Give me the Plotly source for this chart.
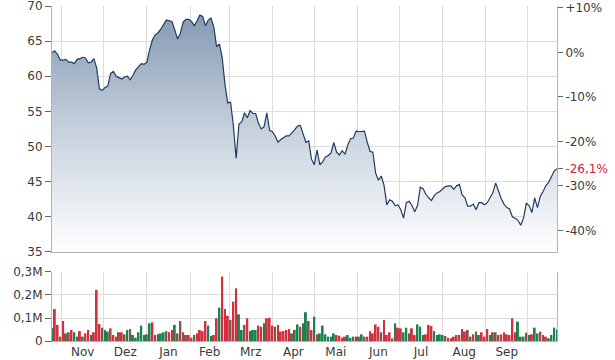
import plotly.graph_objects as go
import pandas as pd

# ---------------- data ----------------
START = "2022-10-25"
PRICE = [
    63.4, 63.6, 63.1, 62.3, 62.3, 62.4, 62.0, 62.0, 61.8, 62.4,
    62.5, 62.7, 62.6, 61.9, 62.0, 62.5, 61.2, 58.2, 58.0, 58.4,
    58.6, 60.4, 60.7, 60.0, 59.8, 59.6, 59.9, 60.0, 59.5, 60.1,
    60.9, 61.4, 61.8, 61.7, 62.0, 63.8, 65.2, 65.9, 66.2, 66.7,
    67.3, 68.0, 67.9, 67.8, 66.6, 65.3, 66.1, 67.7, 68.1, 68.1,
    67.8, 67.2, 67.9, 68.7, 68.5, 67.2, 68.0, 68.3, 67.0, 64.2,
    64.6, 62.7, 58.8, 56.2, 56.3, 53.0, 48.3, 53.2, 53.5, 54.8,
    54.1, 55.1, 54.7, 54.7, 53.3, 52.5, 52.8, 54.8, 52.3, 52.1,
    51.5, 50.6, 51.0, 51.2, 51.5, 51.5, 51.9, 52.4, 52.9, 53.0,
    51.8, 50.6, 50.8, 48.2, 47.4, 49.5, 47.4, 47.8, 48.5, 48.7,
    49.1, 50.6, 49.2, 48.8, 49.4, 48.9, 50.2, 51.1, 51.2, 52.2,
    52.1, 52.1, 52.2, 50.6, 49.3, 49.2, 46.2, 45.2, 45.8, 44.5,
    41.7, 42.4, 42.2, 41.6, 41.7, 41.0, 39.8, 42.0, 42.2, 41.6,
    40.7, 41.6, 44.2, 44.0, 43.2, 42.7, 42.3, 43.0, 43.4, 43.6,
    43.9, 44.3, 44.4, 44.4, 43.9, 44.4, 44.6, 43.1, 42.7, 41.5,
    41.5, 41.8, 41.0, 42.0, 42.0, 41.7, 42.0, 42.7, 43.4, 44.8,
    43.6, 42.6, 41.8, 41.3, 41.1, 40.0, 39.8, 39.5, 38.8, 39.8,
    41.9, 41.6, 40.6, 42.7, 41.3, 42.9, 43.6, 44.4, 44.9, 45.6,
    46.5, 46.85,
]
VOLUME_K = [
    58, 139, 70, 19, 87, 33, 38, 48, 38, 19,
    43, 19, 33, 48, 26, 38, 222, 74, 58, 48,
    41, 55, 26, 19, 38, 38, 29, 48, 52, 26,
    14, 38, 67, 26, 29, 77, 81, 26, 29, 33,
    38, 43, 38, 48, 70, 33, 87, 38, 26, 26,
    14, 26, 33, 48, 43, 87, 67, 22, 26, 99,
    145, 280, 139, 110, 91, 171, 229, 116, 48, 70,
    99, 43, 48, 48, 67, 62, 77, 99, 101, 67,
    62, 70, 41, 43, 48, 52, 33, 48, 72, 62,
    77, 125, 87, 48, 106, 29, 33, 67, 29, 19,
    19, 33, 26, 23, 14, 19, 26, 14, 19, 19,
    19, 29, 19, 19, 43, 33, 72, 62, 38, 91,
    26, 38, 12, 77, 58, 55, 38, 58, 33, 55,
    26, 72, 62, 26, 29, 70, 65, 43, 26, 29,
    26, 22, 14, 12, 19, 26, 26, 52, 41, 48,
    19, 29, 41, 26, 38, 19, 52, 26, 38, 38,
    26, 29, 38, 29, 26, 99, 38, 84, 19, 19,
    36, 26, 29, 58, 33, 41, 26, 19, 12, 26,
    58, 50,
]
# r = falling day, g = rising day, b = unchanged
VOLUME_DIR = (
    "grrbrbbrgg" "rgrrgrrrbg" "grrrbrbgbg" "ggggbgrrgg"
    "gbrrgbbrbr" "rgrrrrggrr" "grrrbrrggb" "rgggrrgrrr"
    "brrrrrbggr" "ggbrgrgggg" "ggrrrrggbg" "rgbrrrrrbr"
    "rrrgrrggbr" "rgggrrrggg" "gbrbrrbrrb" "rbbgrrrgbb"
    "brrrrrrgbg" "bgrggrbrgg" "gg"
)
MONTHS = ["Nov", "Dez", "Jan", "Feb", "Mrz", "Apr", "Mai", "Jun", "Jul", "Aug", "Sep"]
MONTH_STARTS = ["2022-11-01", "2022-12-01", "2023-01-01", "2023-02-01", "2023-03-01",
                "2023-04-01", "2023-05-01", "2023-06-01", "2023-07-01", "2023-08-01",
                "2023-09-01", "2023-10-01"]
PRICE_TICKS = [35, 40, 45, 50, 55, 60, 65, 70]
PCT_TICKS = [10, 0, -10, -20, -30, -40]
PCT_TEXT = ["+10%", "0%", "-10%", "-20%", "-30%", "-40%"]
VOL_TICKS = [0, 100000, 200000, 300000]
VOL_TEXT = ["0", "0,1M", "0,2M", "0,3M"]

# ---------------- derived ----------------
dates = pd.date_range(START, periods=len(PRICE), freq="2D")
vol = [v * 1000 for v in VOLUME_K]
cmap = {"r": "#d3303f", "g": "#1b8151", "b": "#7c5847"}
vcolors = [cmap[c] for c in VOLUME_DIR]
ms = pd.to_datetime(MONTH_STARTS)
mids = [ms[i] + (ms[i + 1] - ms[i]) / 2 for i in range(len(MONTHS))]

base = PRICE[0]
last = PRICE[-1]
pct_last = (last / base - 1) * 100
Y_LO, Y_HI = PRICE_TICKS[0], PRICE_TICKS[-1]
pct_range = [(Y_LO / base - 1) * 100, (Y_HI / base - 1) * 100]
pct_vals = PCT_TICKS + [pct_last]
pct_text = PCT_TEXT + ['<span style="color:#d0233b">%s%%</span>' % ("%.1f" % pct_last).replace(".", ",")]

GRID = "#dcdcdc"
AXIS = "#b4b4b4"
TICKC = "#666666"
FONT = dict(family="DejaVu Sans, Verdana, sans-serif", size=12, color="#3a3a3a")

fig = go.Figure()
fig.add_trace(go.Scatter(
    x=dates, y=PRICE, mode="lines",
    line=dict(color="#1f3d63", width=1.2),
    fill="tozeroy",
    fillgradient=dict(type="vertical",
                      colorscale=[[0, "#ffffff"], [0.5, "#c8d2de"], [1, "#8599b2"]],
                      start=Y_LO, stop=69),
    xaxis="x", yaxis="y", hoverinfo="skip",
))
fig.add_trace(go.Bar(
    x=dates, y=vol, marker=dict(color=vcolors, line=dict(width=0)),
    width=1.4 * 24 * 3600 * 1000,
    xaxis="x2", yaxis="y2", hoverinfo="skip",
))
# invisible trace to activate percent axis
fig.add_trace(go.Scatter(x=[dates[0]], y=[0], mode="markers", marker=dict(opacity=0),
                         xaxis="x", yaxis="y3", hoverinfo="skip"))

xcommon = dict(type="date", range=[dates[0], dates[-1]], showgrid=False, ticks="",
               tickvals=mids, ticktext=MONTHS, automargin=False,
               minor=dict(tickvals=list(ms), showgrid=True, gridcolor=GRID, gridwidth=1, ticks=""),
               showline=True, linecolor=AXIS, linewidth=1, zeroline=False)

fig.update_layout(
    width=615, height=360,
    margin=dict(l=52, r=58, t=6, b=19, autoexpand=False),
    paper_bgcolor="white", plot_bgcolor="white",
    showlegend=False, font=FONT,
    xaxis=dict(**xcommon, anchor="y", showticklabels=False),
    xaxis2=dict(**xcommon, anchor="y2", showticklabels=True, matches="x"),
    yaxis=dict(domain=[0.266, 1], range=[Y_LO, Y_HI], tickvals=PRICE_TICKS,
               ticks="outside", ticklen=6, tickcolor=TICKC, showgrid=False,
               minor=dict(tickvals=PRICE_TICKS[1:-1], showgrid=True, gridcolor=GRID, ticks=""),
               ticklabeloverflow="allow",
               showline=True, linecolor=AXIS, zeroline=False, anchor="x", automargin=False),
    yaxis2=dict(domain=[0, 0.206], range=[0, 300000], tickvals=VOL_TICKS, ticktext=VOL_TEXT,
                ticks="outside", ticklen=6, tickcolor=TICKC, gridcolor=GRID,
                ticklabeloverflow="allow",
                showline=True, mirror=True, linecolor=AXIS, zeroline=False, anchor="x2",
                automargin=False),
    yaxis3=dict(overlaying="y", side="right", anchor="x", range=pct_range,
                tickvals=pct_vals, ticktext=pct_text, ticks="outside", ticklen=5,
                tickcolor=TICKC, showgrid=False, showline=True, linecolor=AXIS,
                ticklabeloverflow="allow",
                zeroline=False, automargin=False),
)

fig.write_html("out.html")
